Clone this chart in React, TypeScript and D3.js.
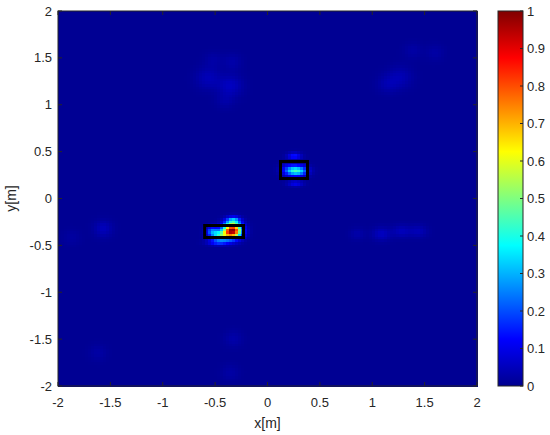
import React, { useMemo } from "react";
import * as d3 from "d3";

// ---- data ----
const xTicks = [-2, -1.5, -1, -0.5, 0, 0.5, 1, 1.5, 2];
const yTicks = [-2, -1.5, -1, -0.5, 0, 0.5, 1, 1.5, 2];
const cbTicks = [0, 0.1, 0.2, 0.3, 0.4, 0.5, 0.6, 0.7, 0.8, 0.9, 1];

// hotspot blobs: centre, amplitude, spread
const blobX = [-0.34, -0.45, -0.53, -0.33, -0.47, 0.29, 0.22, 0.26, 0.27, -0.57, -0.36, -0.34, -0.52, -0.41, 1.27, 1.15, 1.39, 1.6, -1.57, -0.33, -0.36, -1.62, -1.87, 1.09, 1.28, 1.44, 0.86];
const blobY = [-0.335, -0.39, -0.34, -0.225, -0.46, 0.3, 0.31, 0.46, 0.165, 1.29, 1.21, 1.46, 1.48, 1.05, 1.3, 1.23, 1.58, 1.56, -0.315, -1.49, -1.85, -1.64, -0.41, -0.37, -0.34, -0.34, -0.37];
const blobAmp = [1.0, 0.36, 0.22, 0.26, 0.16, 0.36, 0.14, 0.15, 0.1, 0.04, 0.05, 0.025, 0.02, 0.02, 0.035, 0.03, 0.02, 0.02, 0.045, 0.025, 0.02, 0.02, 0.015, 0.05, 0.045, 0.04, 0.025];
const blobSx = [0.06, 0.06, 0.04, 0.045, 0.07, 0.065, 0.06, 0.045, 0.05, 0.08, 0.08, 0.06, 0.06, 0.06, 0.08, 0.07, 0.06, 0.06, 0.06, 0.06, 0.06, 0.06, 0.06, 0.06, 0.06, 0.06, 0.05];
const blobSy = [0.055, 0.035, 0.035, 0.025, 0.022, 0.035, 0.04, 0.025, 0.02, 0.08, 0.08, 0.06, 0.06, 0.06, 0.08, 0.07, 0.06, 0.06, 0.06, 0.06, 0.06, 0.06, 0.06, 0.05, 0.045, 0.045, 0.045];

// target boxes
const boxX0 = [-0.6, 0.124];
const boxX1 = [-0.229, 0.382];
const boxY0 = [-0.416, 0.213];
const boxY1 = [-0.288, 0.395];

const jetStops = [0, 0.125, 0.375, 0.625, 0.875, 1];
const jetColors = ["#00008f", "#0000ff", "#00ffff", "#ffff00", "#ff0000", "#800000"];

const W = 550, H = 435;
const L = 58, R = 477, T = 11, B = 386;
const CBL = 498, CBR = 523;
const N = 140;
const FONT = "'Liberation Sans', Arial, sans-serif";
const TXT = "#262626";

export default function App() {
  const x = d3.scaleLinear().domain([-2, 2]).range([L, R]);
  const y = d3.scaleLinear().domain([-2, 2]).range([B, T]);
  const cy = d3.scaleLinear().domain([0, 1]).range([B, T]);
  const color = d3.scaleLinear<string>().domain(jetStops).range(jetColors).clamp(true);

  const step = 4 / N;
  const cells = useMemo(() => {
    const out: { x0: number; y0: number; v: number }[] = [];
    for (let i = 0; i < N; i++) {
      for (let j = 0; j < N; j++) {
        const xc = -2 + (i + 0.5) * step;
        const yc = -2 + (j + 0.5) * step;
        let v = 0.004;
        for (let k = 0; k < blobX.length; k++) {
          const dx = (xc - blobX[k]) / blobSx[k];
          const dy = (yc - blobY[k]) / blobSy[k];
          v += blobAmp[k] * Math.exp(-0.5 * (dx * dx + dy * dy));
        }
        out.push({ x0: -2 + i * step, y0: -2 + j * step, v: Math.min(1, v) });
      }
    }
    return out;
  }, []);

  return (
    <svg width={W} height={H} style={{ display: "block", position: "absolute", left: 0, top: 0 }}>
      <rect x={0} y={0} width={W} height={H} fill="#ffffff" />
      <defs>
        <linearGradient id="jet" x1="0" y1="1" x2="0" y2="0">
          {jetStops.map((s, i) => (
            <stop key={i} offset={s} stopColor={jetColors[i]} />
          ))}
        </linearGradient>
      </defs>
      <g shapeRendering="crispEdges">
        {cells.map((c, i) => (
          <rect
            key={i}
            x={x(c.x0)}
            y={y(c.y0 + step)}
            width={x(c.x0 + step) - x(c.x0) + 0.6}
            height={y(c.y0) - y(c.y0 + step) + 0.6}
            fill={color(c.v)}
          />
        ))}
      </g>
      {boxX0.map((b, i) => (
        <rect
          key={i}
          x={x(b)}
          y={y(boxY1[i])}
          width={x(boxX1[i]) - x(b)}
          height={y(boxY0[i]) - y(boxY1[i])}
          fill="none"
          stroke="#000"
          strokeWidth={3}
        />
      ))}
      <rect x={L} y={T} width={R - L} height={B - T} fill="none" stroke={TXT} strokeWidth={1} />
      {xTicks.map((t) => (
        <g key={"x" + t}>
          <line x1={x(t)} x2={x(t)} y1={B} y2={B - 4} stroke={TXT} />
          <line x1={x(t)} x2={x(t)} y1={T} y2={T + 4} stroke={TXT} />
          <text x={x(t)} y={407} textAnchor="middle" fontFamily={FONT} fontSize={13} fill={TXT}>
            {t}
          </text>
        </g>
      ))}
      {yTicks.map((t) => (
        <g key={"y" + t}>
          <line x1={L} x2={L + 4} y1={y(t)} y2={y(t)} stroke={TXT} />
          <line x1={R} x2={R - 4} y1={y(t)} y2={y(t)} stroke={TXT} />
          <text x={52} y={y(t) + 4.5} textAnchor="end" fontFamily={FONT} fontSize={13} fill={TXT}>
            {t}
          </text>
        </g>
      ))}
      <text x={(L + R) / 2} y={428} textAnchor="middle" fontFamily={FONT} fontSize={14} fill={TXT}>
        x[m]
      </text>
      <text
        transform={`translate(16,${(T + B) / 2}) rotate(-90)`}
        textAnchor="middle"
        fontFamily={FONT}
        fontSize={14}
        fill={TXT}
      >
        y[m]
      </text>
      <rect x={CBL} y={T} width={CBR - CBL} height={B - T} fill="url(#jet)" stroke={TXT} strokeWidth={1} />
      {cbTicks.map((t) => (
        <g key={"c" + t}>
          <line x1={CBR} x2={CBR - 3} y1={cy(t)} y2={cy(t)} stroke={TXT} />
          <text x={527} y={cy(t) + 4.5} fontFamily={FONT} fontSize={13} fill={TXT}>
            {t}
          </text>
        </g>
      ))}
    </svg>
  );
}
